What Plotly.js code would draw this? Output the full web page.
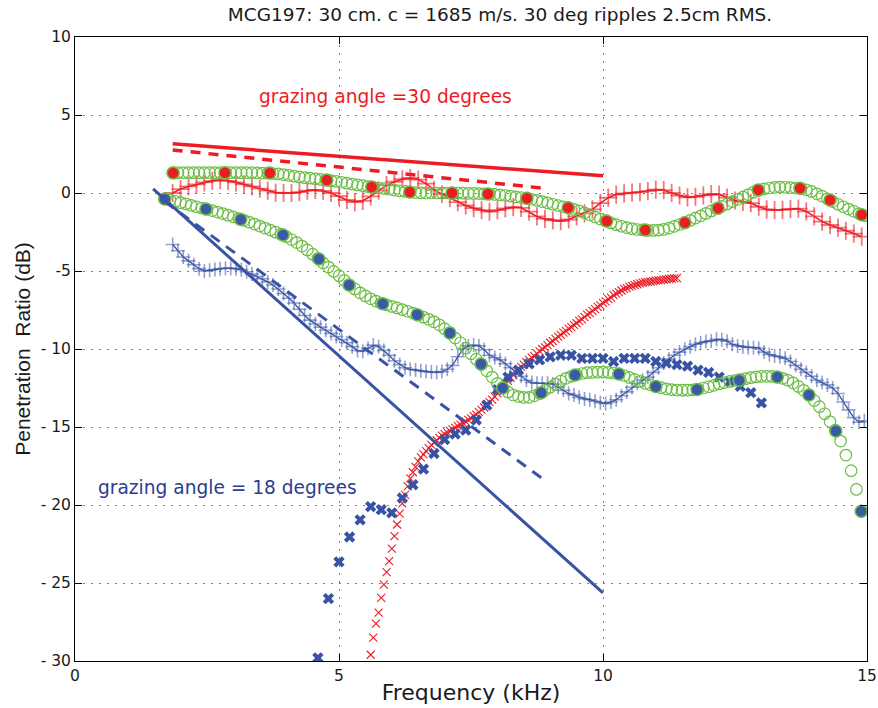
<!DOCTYPE html>
<html>
<head>
<meta charset="utf-8">
<script src="https://cdn.plot.ly/plotly-3.0.1.min.js"></script>
<style>html,body{margin:0;padding:0;background:#fff;}#chart{width:878px;height:708px;}</style>
</head>
<body>
<div id="chart"></div>
<script>
// ---------------- data ----------------
// shared frequency grid (kHz) for 30-deg model curve and 18-deg measured curve
const freqA = [1.85,1.95,2.05,2.15,2.25,2.35,2.45,2.55,2.65,2.75,
2.85,2.95,3.05,3.15,3.25,3.35,3.45,3.55,3.65,3.75,
3.85,3.95,4.05,4.15,4.25,4.35,4.45,4.55,4.65,4.75,
4.85,4.95,5.05,5.15,5.25,5.35,5.45,5.55,5.65,5.75,
5.85,5.95,6.05,6.15,6.25,6.35,6.45,6.55,6.65,6.75,
6.85,6.95,7.05,7.15,7.25,7.35,7.45,7.55,7.65,7.75,
7.85,7.95,8.05,8.15,8.25,8.35,8.45,8.55,8.65,8.75,
8.85,8.95,9.05,9.15,9.25,9.35,9.45,9.55,9.65,9.75,
9.85,9.95,10.05,10.15,10.25,10.35,10.45,10.55,10.65,10.75,
10.85,10.95,11.05,11.15,11.25,11.35,11.45,11.55,11.65,11.75,
11.85,11.95,12.05,12.15,12.25,12.35,12.45,12.55,12.65,12.75,
12.85,12.95,13.05,13.15,13.25,13.35,13.45,13.55,13.65,13.75,
13.85,13.95,14.05,14.15,14.25,14.35,14.45,14.55,14.65,14.75,
14.85,14.95];

// 30 deg model (green circles, upper)
const model30 = [1.3,1.3,1.3,1.3,1.3,1.3,1.3,1.3,1.3,1.3,
1.3,1.3,1.3,1.3,1.3,1.3,1.29,1.28,1.27,1.25,
1.22,1.18,1.13,1.08,1.03,0.98,0.95,0.91,0.87,0.83,
0.79,0.74,0.69,0.63,0.57,0.52,0.47,0.41,0.37,0.32,
0.28,0.24,0.19,0.14,0.1,0.06,0.03,0.01,0,0,
0,0,0,0,0,-0.01,-0.02,-0.03,-0.04,-0.05,
-0.07,-0.09,-0.12,-0.16,-0.2,-0.25,-0.29,-0.34,-0.4,-0.47,
-0.55,-0.63,-0.72,-0.8,-0.88,-0.95,-1.05,-1.15,-1.27,-1.4,
-1.53,-1.67,-1.8,-1.92,-2.03,-2.13,-2.22,-2.29,-2.34,-2.37,
-2.39,-2.4,-2.38,-2.33,-2.25,-2.14,-2.02,-1.9,-1.76,-1.61,
-1.46,-1.31,-1.15,-1.0,-0.85,-0.7,-0.55,-0.4,-0.25,-0.1,
0.05,0.17,0.26,0.32,0.36,0.38,0.37,0.35,0.32,0.28,
0.2,0.1,-0.05,-0.2,-0.37,-0.55,-0.72,-0.88,-1.03,-1.17,
-1.32,-1.45];

// 18 deg measured (blue + line)
const meas18 = [-3.3,-3.7,-4.1,-4.35,-4.6,-4.85,-5.0,-4.95,-4.9,-4.85,
-4.82,-4.82,-4.85,-4.92,-5.05,-5.2,-5.35,-5.5,-5.7,-5.9,
-6.15,-6.45,-6.75,-7.05,-7.45,-7.85,-8.15,-8.4,-8.6,-8.8,
-9.0,-9.2,-9.4,-9.6,-9.85,-10.1,-10.15,-9.95,-9.75,-9.85,
-10.1,-10.4,-10.75,-11.0,-11.2,-11.3,-11.35,-11.4,-11.45,-11.48,
-11.5,-11.45,-11.3,-11.05,-10.5,-10.0,-9.8,-9.75,-9.8,-10.05,
-10.4,-10.55,-10.7,-10.95,-11.2,-11.5,-11.75,-12.0,-12.15,-12.2,
-12.2,-12.2,-12.25,-12.45,-12.65,-12.85,-12.95,-13.1,-13.2,-13.25,
-13.35,-13.45,-13.5,-13.4,-13.25,-13.0,-12.75,-12.45,-12.2,-12.0,
-11.8,-11.5,-11.2,-10.9,-10.65,-10.4,-10.2,-10.0,-9.85,-9.7,
-9.6,-9.52,-9.48,-9.38,-9.4,-9.5,-9.7,-9.8,-9.85,-9.9,
-9.9,-9.95,-10.2,-10.35,-10.45,-10.5,-10.6,-10.8,-11.05,-11.3,
-11.5,-11.75,-12.0,-12.15,-12.3,-12.5,-12.85,-13.4,-13.9,-14.4,
-14.7,-14.6];

// frequency grid for 18 deg model curve
const freqB = [1.7,1.8,1.9,2.0,2.1,2.2,2.3,2.4,2.5,2.6,
2.7,2.8,2.9,3.0,3.1,3.2,3.3,3.4,3.5,3.6,
3.7,3.8,3.9,4.0,4.1,4.2,4.3,4.4,4.5,4.6,
4.7,4.8,4.9,5.0,5.1,5.2,5.3,5.4,5.5,5.6,
5.7,5.8,5.9,6.0,6.1,6.2,6.3,6.4,6.5,6.6,
6.7,6.8,6.9,7.0,7.1,7.2,7.3,7.4,7.5,7.6,
7.7,7.8,7.9,8.0,8.1,8.2,8.3,8.4,8.5,8.6,
8.7,8.8,8.9,9.0,9.1,9.2,9.3,9.4,9.5,9.6,
9.7,9.8,9.9,10.0,10.1,10.2,10.3,10.4,10.5,10.6,
10.7,10.8,10.9,11.0,11.1,11.2,11.3,11.4,11.5,11.6,
11.7,11.8,11.9,12.0,12.1,12.2,12.3,12.4,12.5,12.6,
12.7,12.8,12.9,13.0,13.1,13.2,13.3,13.4,13.5,13.6,
13.7,13.8,13.9,14.0,14.1,14.2,14.3,14.4,14.5,14.6,
14.7,14.8,14.9];

// 18 deg model (green circles, lower)
const model18 = [-0.38,-0.45,-0.53,-0.62,-0.7,-0.79,-0.88,-0.96,-1.04,-1.13,
-1.22,-1.32,-1.42,-1.53,-1.64,-1.75,-1.87,-1.99,-2.12,-2.25,
-2.38,-2.51,-2.64,-2.8,-2.98,-3.18,-3.4,-3.65,-3.92,-4.2,
-4.48,-4.75,-5.03,-5.3,-5.6,-5.9,-6.15,-6.4,-6.6,-6.78,
-6.93,-7.07,-7.17,-7.27,-7.37,-7.47,-7.58,-7.7,-7.82,-7.96,
-8.1,-8.26,-8.45,-8.7,-8.97,-9.3,-9.6,-9.95,-10.3,-10.65,
-11.0,-11.4,-11.8,-12.2,-12.5,-12.75,-12.95,-13.05,-13.1,-13.1,
-13.0,-12.85,-12.65,-12.45,-12.25,-12.05,-11.88,-11.75,-11.65,-11.57,
-11.52,-11.5,-11.48,-11.48,-11.5,-11.54,-11.6,-11.7,-11.82,-11.95,
-12.08,-12.2,-12.3,-12.4,-12.48,-12.55,-12.6,-12.63,-12.64,-12.64,
-12.62,-12.58,-12.5,-12.42,-12.33,-12.24,-12.15,-12.08,-12.02,-11.96,
-11.9,-11.84,-11.79,-11.76,-11.75,-11.76,-11.8,-11.88,-12.0,-12.17,
-12.4,-12.65,-12.95,-13.3,-13.7,-14.15,-14.65,-15.2,-15.9,-16.8,
-17.8,-19.0,-20.4];

// 30 deg measured (red + line)
const freqC = [1.85,2.0,2.15,2.3,2.45,2.6,2.75,2.9,3.05,3.2,
3.35,3.5,3.65,3.8,3.95,4.1,4.25,4.4,4.55,4.7,
4.85,5.0,5.15,5.3,5.45,5.6,5.75,5.9,6.05,6.2,
6.35,6.5,6.65,6.8,6.95,7.1,7.25,7.4,7.55,7.7,
7.85,8.0,8.15,8.3,8.45,8.6,8.75,8.9,9.05,9.2,
9.35,9.5,9.65,9.8,9.95,10.1,10.25,10.4,10.55,10.7,
10.85,11.0,11.15,11.3,11.45,11.6,11.75,11.9,12.05,12.2,
12.35,12.5,12.65,12.8,12.95,13.1,13.25,13.4,13.55,13.7,
13.85,14.0,14.15,14.3,14.45,14.6,14.75,14.9];
const meas30 = [0.0,0.25,0.42,0.55,0.68,0.78,0.83,0.78,0.68,0.55,
0.42,0.28,0.15,0.03,0.0,0.0,0.05,0.15,0.2,0.13,
0.0,-0.2,-0.45,-0.58,-0.5,-0.22,0.15,0.5,0.72,0.88,
0.96,0.86,0.6,0.2,-0.08,-0.32,-0.58,-0.8,-0.97,-1.1,
-1.2,-1.1,-0.98,-0.9,-0.95,-1.2,-1.5,-1.66,-1.75,-1.8,
-1.7,-1.5,-1.3,-1.05,-0.65,-0.3,-0.1,-0.02,0.02,0.06,
0.12,0.22,0.18,0.0,-0.16,-0.28,-0.24,-0.15,-0.07,-0.1,
-0.3,-0.48,-0.57,-0.65,-0.88,-1.05,-1.09,-1.08,-1.03,-1.0,
-1.18,-1.5,-1.83,-2.05,-2.22,-2.42,-2.6,-2.8];

// red thin x markers
const freqD = [5.6,5.65,5.7,5.75,5.8,5.85,5.9,5.95,6.0,6.05,
6.1,6.15,6.2,6.25,6.3,6.35,6.4,6.45,6.5,6.55,
6.6,6.65,6.7,6.75,6.8,6.85,6.9,6.95,7.0,7.05,
7.1,7.15,7.2,7.25,7.3,7.35,7.4,7.45,7.5,7.55,
7.6,7.65,7.7,7.75,7.8,7.85,7.9,7.95,8.0,8.05,
8.1,8.15,8.2,8.25,8.3,8.35,8.4,8.45,8.5,8.55,
8.6,8.65,8.7,8.75,8.8,8.85,8.9,8.95,9.0,9.05,
9.1,9.15,9.2,9.25,9.3,9.35,9.4,9.45,9.5,9.55,
9.6,9.65,9.7,9.75,9.8,9.85,9.9,9.95,10.0,10.05,
10.1,10.15,10.2,10.25,10.3,10.35,10.4,10.45,10.5,10.55,
10.6,10.65,10.7,10.75,10.8,10.85,10.9,10.95,11.0,11.05,
11.1,11.15,11.2,11.25,11.3,11.35,11.4];
const redX = [-29.6,-28.5,-27.6,-26.9,-25.95,-25.1,-24.3,-23.6,-22.8,-22.0,
-21.25,-20.55,-19.9,-19.35,-18.8,-18.3,-17.9,-17.55,-17.2,-16.95,
-16.75,-16.55,-16.35,-16.15,-16.0,-15.85,-15.7,-15.55,-15.45,-15.35,
-15.25,-15.15,-15.05,-14.95,-14.85,-14.75,-14.65,-14.55,-14.45,-14.3,
-14.2,-14.05,-13.9,-13.75,-13.55,-13.4,-13.25,-13.05,-12.85,-12.65,
-12.45,-12.25,-12.05,-11.85,-11.65,-11.5,-11.3,-11.15,-11.0,-10.85,
-10.7,-10.55,-10.45,-10.3,-10.15,-10.0,-9.9,-9.75,-9.6,-9.5,
-9.35,-9.2,-9.1,-8.95,-8.85,-8.7,-8.6,-8.45,-8.35,-8.2,
-8.1,-7.95,-7.8,-7.7,-7.55,-7.45,-7.3,-7.2,-7.05,-6.95,
-6.8,-6.7,-6.55,-6.45,-6.35,-6.25,-6.15,-6.1,-6.0,-5.95,
-5.9,-5.85,-5.8,-5.75,-5.72,-5.7,-5.68,-5.65,-5.62,-5.6,
-5.58,-5.55,-5.53,-5.5,-5.49,-5.47,-5.45];

// blue bold x markers
const freqE = [4.6,4.8,5.0,5.2,5.4,5.6,5.8,6.0,6.2,6.4,
6.6,6.8,7.0,7.2,7.4,7.6,7.8,8.0,8.2,8.4,
8.6,8.8,9.0,9.2,9.4,9.6,9.8,10.0,10.2,10.4,
10.6,10.8,11.0,11.2,11.4,11.6,11.8,12.0,12.2,12.4,
12.6,12.8,13.0];
const blueX = [-29.8,-26.0,-23.65,-22.05,-20.95,-20.1,-20.3,-20.5,-19.55,-18.7,
-17.7,-16.7,-15.8,-15.45,-15.2,-14.55,-13.6,-12.6,-11.8,-11.35,
-10.95,-10.7,-10.5,-10.4,-10.4,-10.6,-10.6,-10.6,-10.8,-10.6,
-10.6,-10.6,-10.8,-10.9,-11.0,-11.1,-11.35,-11.5,-11.8,-12.1,
-12.4,-12.8,-13.45];

// filled dots on model curves
const redDotF = [1.86,2.84,3.69,4.77,5.62,6.34,7.14,7.82,8.56,9.34,10.07,10.8,11.55,12.18,12.94,13.73,14.3,14.9];
const redDotV = [1.28,1.3,1.28,0.83,0.38,0.06,0.0,-0.06,-0.34,-0.94,-1.8,-2.37,-1.9,-0.97,0.2,0.3,-0.45,-1.4];
const blueDotF = [1.7,2.48,3.14,3.94,4.62,5.19,5.83,6.48,7.1,7.69,8.1,8.83,9.47,10.3,11.0,11.78,12.58,13.3,13.9,14.41,14.89];
const blueDotV = [-0.38,-1.03,-1.7,-2.69,-4.23,-5.9,-7.1,-7.8,-8.97,-10.96,-12.5,-12.8,-11.67,-11.6,-12.4,-12.6,-12.0,-11.8,-12.95,-15.26,-20.4];

// straight model lines (end points)
const red30SolidF = [1.85, 10];   const red30SolidV = [3.15, 1.1];
const red30DashF  = [1.85, 8.84]; const red30DashV  = [2.76, 0.32];
const blue18SolidF = [1.48, 10];  const blue18SolidV = [0.26, -25.64];
const blue18DashF  = [1.7, 8.86]; const blue18DashV  = [-0.54, -18.33];

// axis ticks
const xTicks = [0, 5, 10, 15];
const yTicks = [10, 5, 0, -5, -10, -15, -20, -25, -30];
const yTickText = ['10', '5', '0', '-5', '- 10', '- 15', '- 20', '- 25', '- 30'];

// ---------------- styles ----------------
const RED = '#ed1c24', BLUE = '#3953a4', GREEN = '#6cbd45', BLUETXT = '#2b3d91';
const FONT = 'DejaVu Sans, Liberation Sans, Arial, sans-serif';

const traces = [
  {x: freqD, y: redX, mode: 'markers', type: 'scatter',
   marker: {symbol: 'x-thin-open', size: 8, color: RED, line: {width: 1.1, color: RED}}},
  {x: freqE, y: blueX, mode: 'markers', type: 'scatter',
   marker: {symbol: 'x', size: 10, color: BLUE, line: {width: 0}}},
  {x: freqA, y: meas18, mode: 'lines+markers', type: 'scatter',
   line: {color: BLUE, width: 1.3},
   marker: {symbol: 'cross-thin-open', size: 10, color: 'rgba(57,83,164,0.55)', line: {width: 1.6, color: 'rgba(57,83,164,0.55)'}}},
  {x: freqC, y: meas30, mode: 'lines+markers', type: 'scatter',
   line: {color: RED, width: 1.6},
   marker: {symbol: 'cross-thin-open', size: 13, color: 'rgba(237,28,36,0.6)', line: {width: 1.8, color: 'rgba(237,28,36,0.6)'}}},
  {x: freqB, y: model18, mode: 'markers', type: 'scatter',
   marker: {symbol: 'circle-open', size: 11.5, color: GREEN, line: {width: 1.2, color: GREEN}}},
  {x: freqA, y: model30, mode: 'markers', type: 'scatter',
   marker: {symbol: 'circle-open', size: 11.5, color: GREEN, line: {width: 1.2, color: GREEN}}},
  {x: blueDotF, y: blueDotV, mode: 'markers', type: 'scatter',
   marker: {symbol: 'circle', size: 12, color: '#3b5aa6', line: {width: 1.5, color: GREEN}}},
  {x: redDotF, y: redDotV, mode: 'markers', type: 'scatter',
   marker: {symbol: 'circle', size: 12, color: RED, line: {width: 1.5, color: GREEN}}},
  {x: red30SolidF, y: red30SolidV, mode: 'lines', type: 'scatter', line: {color: RED, width: 3.5}},
  {x: red30DashF, y: red30DashV, mode: 'lines', type: 'scatter', line: {color: RED, width: 3.5, dash: '10px,8px'}},
  {x: blue18SolidF, y: blue18SolidV, mode: 'lines', type: 'scatter', line: {color: BLUE, width: 3}},
  {x: blue18DashF, y: blue18DashV, mode: 'lines', type: 'scatter', line: {color: BLUE, width: 3, dash: '11px,8px'}}
];

const axisCommon = {
  showline: true, linecolor: '#000', linewidth: 1, mirror: 'ticks',
  ticks: 'inside', ticklen: 7, tickcolor: '#000', tickwidth: 1,
  showgrid: true, gridcolor: '#808080', gridwidth: 1, griddash: '1.5px,6.5px',
  zeroline: false, tickfont: {family: FONT, size: 15.5, color: '#1a1a1a'}
};

const layout = {
  width: 878, height: 708,
  margin: {l: 75, r: 11, t: 37, b: 47},
  paper_bgcolor: '#fff', plot_bgcolor: '#fff',
  showlegend: false,
  title: {text: 'MCG197: 30 cm. c = 1685 m/s. 30 deg ripples 2.5cm RMS.',
          font: {family: FONT, size: 18.5, color: '#1a1a1a'},
          xref: 'container', yref: 'container', x: 0.5695, xanchor: 'center', y: 0.979, yanchor: 'middle'},
  xaxis: Object.assign({}, axisCommon, {
    range: [0, 15], tickmode: 'array', tickvals: xTicks,
    title: {text: 'Frequency (kHz)', font: {family: FONT, size: 22, color: '#1a1a1a'}, standoff: 1}
  }),
  yaxis: Object.assign({}, axisCommon, {
    range: [-30, 10], tickmode: 'array', tickvals: yTicks, ticktext: yTickText,
    title: {text: 'Penetration  Ratio (dB)', font: {family: 'Liberation Sans, Arial, sans-serif', size: 21, color: '#1a1a1a'}, standoff: 4}
  }),
  annotations: [
    {x: 3.45, y: 6.2, xref: 'x', yref: 'y', xanchor: 'left', yanchor: 'middle', showarrow: false,
     text: 'grazing angle =30 degrees', font: {family: FONT, size: 18.6, color: RED}},
    {x: 0.4, y: -18.9, xref: 'x', yref: 'y', xanchor: 'left', yanchor: 'middle', showarrow: false,
     text: 'grazing angle = 18 degrees', font: {family: FONT, size: 18.6, color: BLUETXT}}
  ]
};

Plotly.newPlot('chart', traces, layout, {displayModeBar: false, staticPlot: true});
</script>
</body>
</html>
